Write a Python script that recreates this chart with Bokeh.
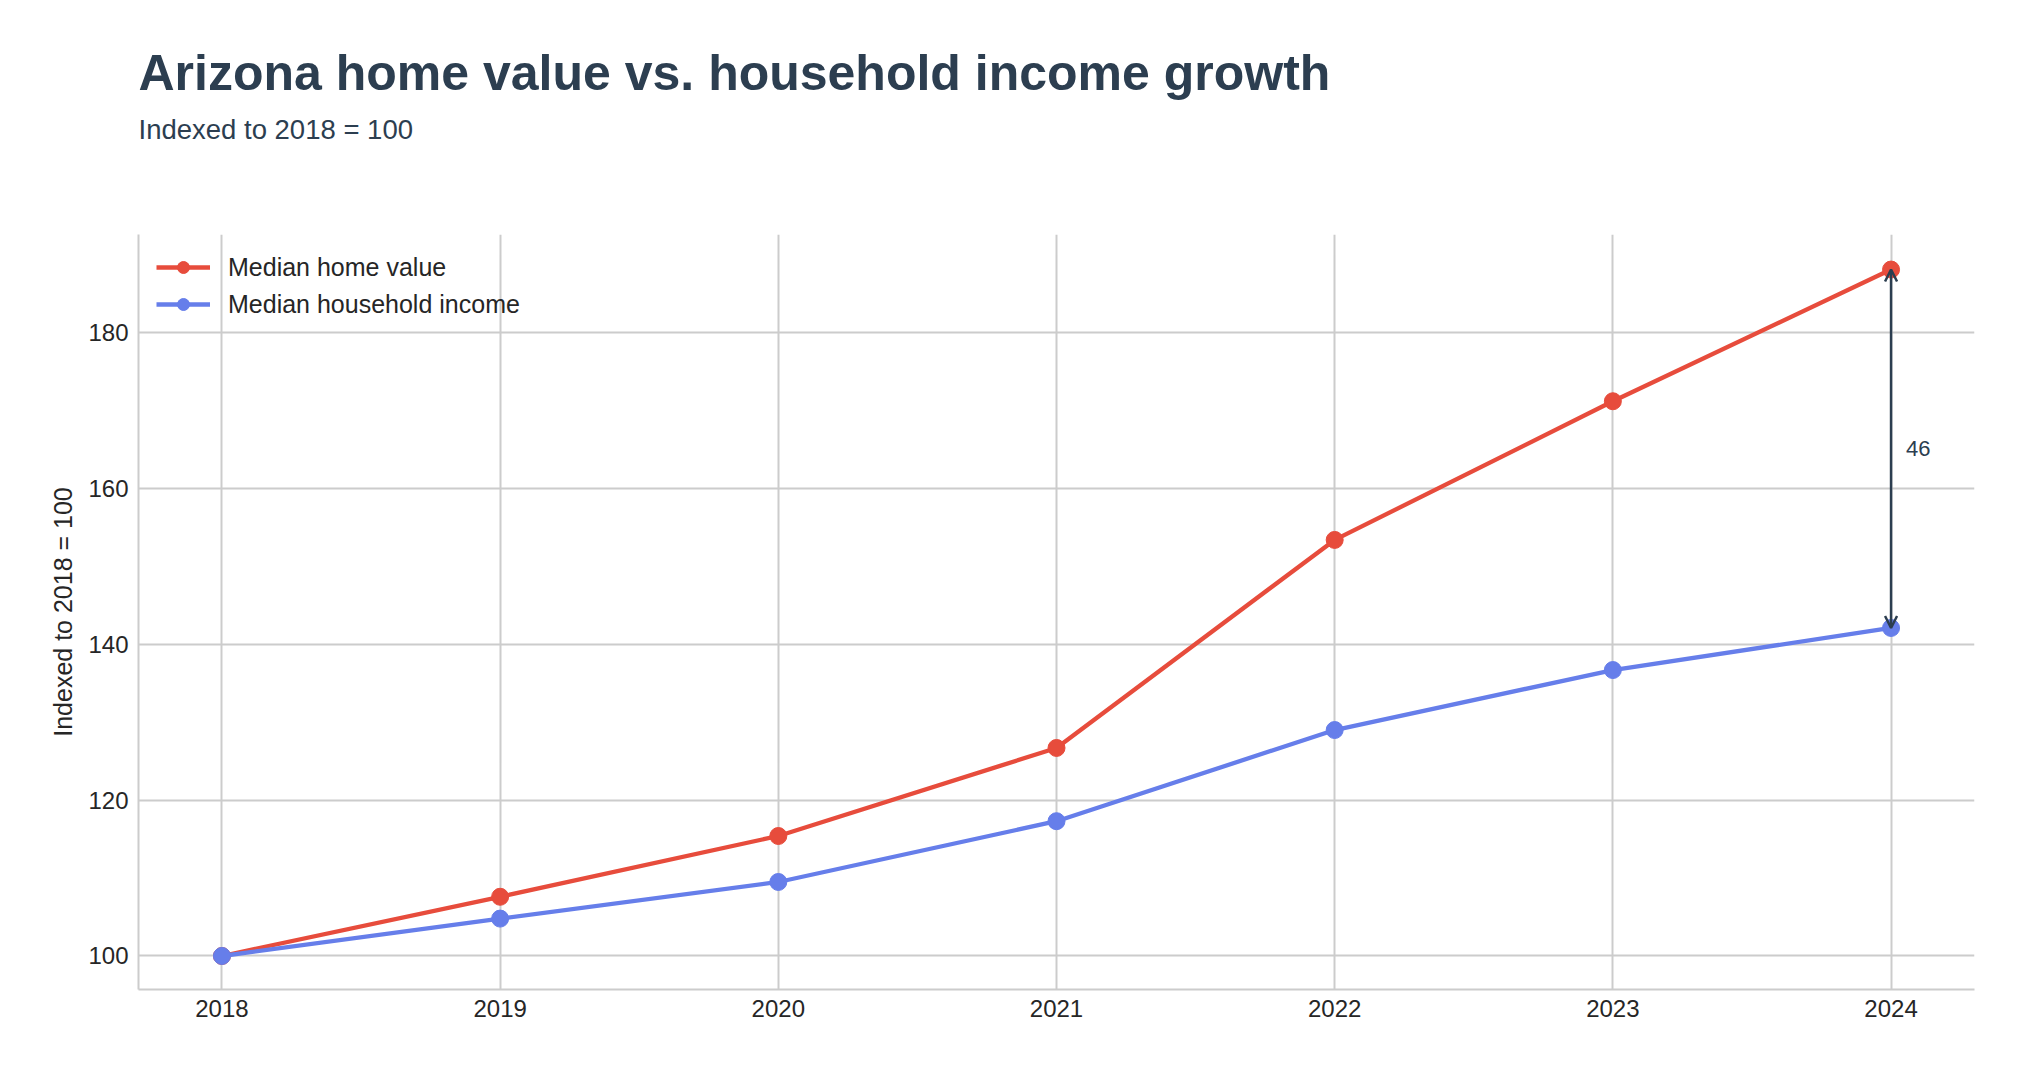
from bokeh.plotting import figure
from bokeh.models import (Title, Arrow, OpenHead, Label, ColumnDataSource, Legend,
                          LegendItem, FixedTicker, Range1d, LinearAxis)
from bokeh.embed import file_html
from bokeh.resources import INLINE

# ---- data ----
years = [2018, 2019, 2020, 2021, 2022, 2023, 2024]
home_value = [100.0, 107.6, 115.4, 126.7, 153.4, 171.2, 188.1]
household_income = [100.0, 104.8, 109.5, 117.3, 129.0, 136.7, 142.1]
y_ticks = [100, 120, 140, 160, 180]

title_text = "Arizona home value vs. household income growth"
subtitle_text = "Indexed to 2018 = 100"
y_label = "Indexed to 2018 = 100"
series_names = ["Median home value", "Median household income"]

RED = "#e74c3c"
BLUE = "#667eea"
DARK = "#2c3e50"
GRID = "#cccccc"
TXT = "#262626"
FONT = "Liberation Sans"

W, H = 2011, 1059
p = figure(width=W, height=H, output_backend="svg", toolbar_location=None,
           x_range=Range1d(2017.7, 2024.3), y_range=Range1d(95.7, 192.6),
           min_border_left=138, min_border_right=37, min_border_bottom=70,
           min_border_top=234)
p.outline_line_color = None
p.background_fill_color = "white"
p.border_fill_color = "white"

xaxis = p.below[0]
yaxis = p.left[0]

# blank spacer between the subtitle and the plot area (invisible tick, no label text)
mid_year = years[len(years) // 2]
gap_axis = LinearAxis(ticker=FixedTicker(ticks=[mid_year]),
                      major_label_overrides={mid_year: ""},
                      axis_line_color=None,
                      major_tick_line_color=None, minor_tick_line_color=None,
                      major_tick_in=0, major_tick_out=79, minor_tick_in=0,
                      minor_tick_out=0, major_label_standoff=0)
p.add_layout(gap_axis, "above")

# titles (first added sits closest to the plot)
sub = Title(text=subtitle_text, text_font=FONT, text_font_size="27.5px",
            text_font_style="normal", text_color=DARK, align="left", standoff=22)
p.add_layout(sub, "above")
main = Title(text=title_text, text_font=FONT, text_font_size="50px",
             text_font_style="bold", text_color=DARK, align="left", standoff=0)
p.add_layout(main, "above")

# axes
xaxis.ticker = FixedTicker(ticks=years)
yaxis.ticker = FixedTicker(ticks=y_ticks)
for ax in (xaxis, yaxis):
    ax.axis_line_color = GRID
    ax.axis_line_width = 2
    ax.major_tick_line_color = None
    ax.minor_tick_line_color = None
    ax.major_tick_out = 0
    ax.major_tick_in = 0
    ax.major_label_standoff = 10
    ax.major_label_text_font = FONT
    ax.major_label_text_font_size = "24px"
    ax.major_label_text_color = TXT
yaxis.axis_label = y_label
yaxis.axis_label_text_font = FONT
yaxis.axis_label_text_font_size = "25px"
yaxis.axis_label_text_font_style = "normal"
yaxis.axis_label_text_color = TXT
yaxis.axis_label_standoff = 8

p.xgrid.grid_line_color = GRID
p.xgrid.grid_line_width = 2
p.ygrid.grid_line_color = GRID
p.ygrid.grid_line_width = 2

src = ColumnDataSource(dict(year=years, home=home_value, income=household_income))

l1 = p.line("year", "home", source=src, line_color=RED, line_width=4.3)
s1 = p.scatter("year", "home", source=src, size=17, fill_color=RED, line_color=RED)
l2 = p.line("year", "income", source=src, line_color=BLUE, line_width=4.3)
s2 = p.scatter("year", "income", source=src, size=17, fill_color=BLUE, line_color=BLUE)

legend = Legend(items=[LegendItem(label=series_names[0], renderers=[l1, s1]),
                       LegendItem(label=series_names[1], renderers=[l2, s2])],
                location="top_left", glyph_width=54, glyph_height=30,
                label_height=30, spacing=7, label_standoff=18, padding=14,
                margin=18, border_line_color=None, background_fill_alpha=0,
                label_text_font=FONT, label_text_font_size="25px",
                label_text_color=TXT)
p.add_layout(legend)

# gap annotation
x_last = years[-1]
gap = home_value[-1] - household_income[-1]
arrow = Arrow(start=OpenHead(size=12, line_color=DARK, line_width=2.5),
              end=OpenHead(size=12, line_color=DARK, line_width=2.5),
              x_start=x_last, y_start=household_income[-1],
              x_end=x_last, y_end=home_value[-1],
              line_color=DARK, line_width=2.5)
p.add_layout(arrow)
lab = Label(x=x_last, y=(home_value[-1] + household_income[-1]) / 2, x_offset=15,
            text=f"{gap:.0f}", text_baseline="middle", text_align="left",
            text_font=FONT, text_font_size="22px", text_color=DARK)
p.add_layout(lab)

open("out.html", "w").write(file_html(p, INLINE))
